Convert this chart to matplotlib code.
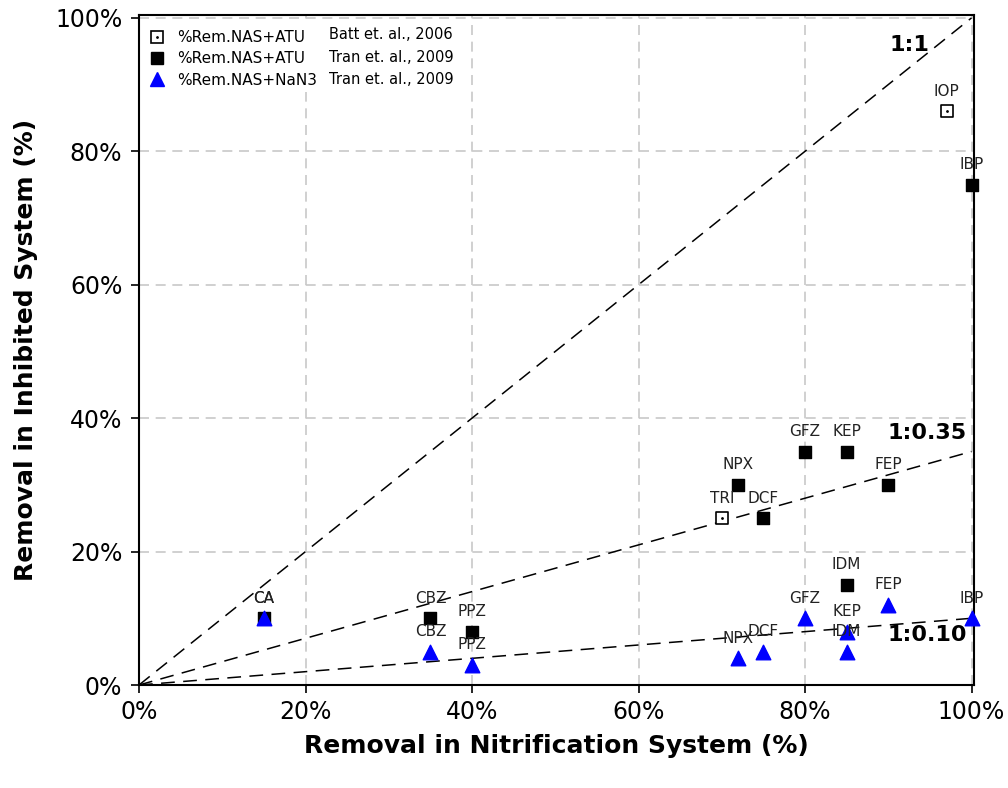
import matplotlib
matplotlib.use("Agg")
import matplotlib.pyplot as plt
from matplotlib.lines import Line2D
from matplotlib.patches import Rectangle
from matplotlib.ticker import FuncFormatter

plt.rcParams['font.family'] = ['DejaVu Sans']

# Batt et al., 2006 (%Rem.NAS+ATU) - open squares
batt_labels = ["IOP", "TRI"]
batt_x = [97, 70]
batt_y = [86, 25]

# Tran et al., 2009 (%Rem.NAS+ATU) - filled squares
atu_labels = ["IBP", "GFZ", "KEP", "NPX", "DCF", "FEP", "IDM", "CBZ", "PPZ", "CA"]
atu_x = [100, 80, 85, 72, 75, 90, 85, 35, 40, 15]
atu_y = [75, 35, 35, 30, 25, 30, 15, 10, 8, 10]

# Tran et al., 2009 (%Rem.NAS+NaN3) - blue triangles
nan3_labels = ["CA", "CBZ", "PPZ", "NPX", "DCF", "GFZ", "KEP", "IDM", "FEP", "IBP"]
nan3_x = [15, 35, 40, 72, 75, 80, 85, 85, 90, 100]
nan3_y = [10, 5, 3, 4, 5, 10, 8, 5, 12, 10]

# reference ratio lines
ratio_names = ["1:1", "1:0.35", "1:0.10"]
ratio_slopes = [1.0, 0.35, 0.10]

legend_series = ["%Rem.NAS+ATU", "%Rem.NAS+ATU", "%Rem.NAS+NaN3"]
legend_refs = ["Batt et. al., 2006", "Tran et. al., 2009", "Tran et. al., 2009"]

ticks = [0, 20, 40, 60, 80, 100]

fig = plt.figure(figsize=(10.08, 7.88), dpi=100)
ax = fig.add_axes([0.1379, 0.1307, 0.8284, 0.850])
ax.set_xlim(0, 100.3)
ax.set_ylim(0, 100.4)

ax.set_xticks(ticks)
ax.set_yticks(ticks)
fmt = FuncFormatter(lambda v, p: f"{int(round(v))}%")
ax.xaxis.set_major_formatter(fmt)
ax.yaxis.set_major_formatter(fmt)
ax.tick_params(axis='both', direction='out', length=6, width=1.2, labelsize=17, pad=5)
ax.tick_params(axis='y', pad=6)
for s in ax.spines.values():
    s.set_linewidth(1.5)

ax.grid(True, color='#c8c8c8', linestyle=(0, (6, 4)), linewidth=1.2, zorder=0)
ax.set_axisbelow(True)

# ratio lines
for name, k in zip(ratio_names, ratio_slopes):
    ax.plot([0, 100], [0, 100 * k], color='black', linestyle=(0, (9, 5.5)),
            linewidth=1.1, zorder=2)

ax.text(92.5, 96.0, "1:1", fontsize=16, fontweight='bold', ha='center', va='center')
ax.text(94.7, 37.8, "1:0.35", fontsize=16, fontweight='bold', ha='center', va='center')
ax.text(94.7, 7.5, "1:0.10", fontsize=16, fontweight='bold', ha='center', va='center')

# markers
ax.scatter(batt_x, batt_y, marker='s', s=80, facecolor='white',
           edgecolor='black', linewidth=1.2, zorder=5, clip_on=False)
ax.scatter(batt_x, batt_y, marker='.', s=4, color='black', zorder=6, clip_on=False)
ax.scatter(atu_x, atu_y, marker='s', s=80, color='black', zorder=5, clip_on=False)
ax.scatter(nan3_x, nan3_y, marker='^', s=110, color='blue', zorder=6, clip_on=False)

# point labels
def put_labels(labels, xs, ys):
    for lab, x, y in zip(labels, xs, ys):
        ax.annotate(lab, (x, y), xytext=(0, 14.5), textcoords='offset points',
                    ha='center', va='center', fontsize=11, color='#222222',
                    zorder=7, annotation_clip=False)

put_labels(batt_labels, batt_x, batt_y)
put_labels(atu_labels, atu_x, atu_y)
put_labels(nan3_labels, nan3_x, nan3_y)

# legend
ax.add_patch(Rectangle((0.003, 0.885), 0.39, 0.105, transform=ax.transAxes,
                       facecolor='white', edgecolor='none', zorder=3))
h_open = (Line2D([], [], marker='s', linestyle='none', markersize=8,
                 markerfacecolor='white', markeredgecolor='black', markeredgewidth=1.2),
          Line2D([], [], marker='.', linestyle='none', markersize=2, color='black'))
h_fill = Line2D([], [], marker='s', linestyle='none', markersize=8, color='black')
h_tri = Line2D([], [], marker='^', linestyle='none', markersize=10, color='blue')
leg = ax.legend([h_open, h_fill, h_tri], legend_series, loc='upper left',
                bbox_to_anchor=(0.0, 0.994), frameon=False, fontsize=11,
                handlelength=1.0, handletextpad=0.8, labelspacing=0.42,
                borderaxespad=0.3)
leg.set_zorder(8)
for i, ref in enumerate(legend_refs):
    ax.text(0.228, 0.971 - i * 0.0335, ref, transform=ax.transAxes, fontsize=10.5,
            ha='left', va='center', zorder=8)

ax.set_xlabel("Removal in Nitrification System (%)", fontsize=18, fontweight='bold',
              labelpad=7)
ax.set_ylabel("Removal in Inhibited System (%)", fontsize=18, fontweight='bold',
              labelpad=12)

fig.savefig("out.png", dpi=100)
